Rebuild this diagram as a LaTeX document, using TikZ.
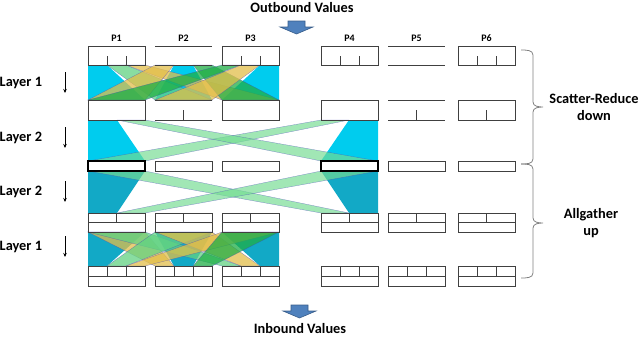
\documentclass[tikz,border=0pt]{standalone}
\usepackage{fontspec}
\setmainfont{Carlito}
\usepackage{xcolor}
\usepackage{tikz}
\usetikzlibrary{arrows.meta,positioning}

\definecolor{selfcyan}{HTML}{00CCEE}
\definecolor{selfteal}{HTML}{12A9C6}
\definecolor{fanlight}{HTML}{62D282}
\definecolor{fanyellow}{HTML}{E2BE4A}
\definecolor{fangreen}{HTML}{1FAE46}
\definecolor{bandgreen}{HTML}{74DC92}
\definecolor{arrowblue}{HTML}{4F81BD}
\definecolor{arrowedge}{HTML}{385D8A}

\begin{document}
\begin{tikzpicture}[x=1bp,y=-1bp,
    box/.style={draw=black!75,line width=0.8bp},
    fan/.style={fill=#1,fill opacity=0.75,draw=blue!45!gray,draw opacity=0.6,line width=0.3bp},
    band/.style={fill=#1,fill opacity=0.68,draw=blue!45!gray,draw opacity=0.6,line width=0.3bp},
    selfpart/.style={fill=#1,draw=none},
    lbl/.style={font=\bfseries\fontsize{14.4}{17.3}\selectfont,inner sep=0pt},
    plbl/.style={font=\bfseries\fontsize{10}{12}\selectfont,inner sep=0pt},
    layerarrow/.style={-{Stealth[length=4bp,width=3.5bp]},line width=0.8bp},
    blockarrow/.style={fill=arrowblue,draw=arrowedge,line width=0.6bp},
    grouping/.style={draw=gray,line width=0.8bp}]

\useasboundingbox (0,0) rectangle (640,336);

% titles and block arrows
\node[lbl] (outv) at (302,7.5) {Outbound Values};
\node[lbl] (inv) at (300,328.5) {Inbound Values};
\draw[blockarrow] (288,21) -- (305,21) -- (305,27) -- (313,27) -- (296.5,34)
    -- (280,27) -- (288,27) -- cycle;
\draw[blockarrow] (291,305) -- (308,305) -- (308,311) -- (316,311) -- (299.5,318)
    -- (283,311) -- (291,311) -- cycle;

% processor names
\foreach \x/\p in {88/P1,155/P2,222/P3,321/P4,388/P5,458/P6}
    \node[plbl] (\p) at (\x+28.5,38) {\p};

% layer 1, scatter-reduce
\foreach \a/\b/\c/\d in {88/107/88/145,174/193/155/212,260/279/222/279}
    \fill[selfpart=selfcyan] (\a,65) -- (\b,65) -- (\d,100) -- (\c,100) -- cycle;
\foreach \a/\b/\c/\d/\col in {107/126/155/212/fanlight,126/145/222/279/fanyellow,
    155/174/88/145/fanyellow,193/212/222/279/fangreen,
    222/241/88/145/fangreen,241/260/155/212/fanyellow}
    \filldraw[fan=\col] (\a,65) -- (\b,65) -- (\d,100) -- (\c,100) -- cycle;

% layer 2, scatter-reduce
\fill[selfpart=selfcyan] (88,120) -- (117,120) -- (145,161) -- (88,161) -- cycle;
\fill[selfpart=selfcyan] (349,120) -- (378,120) -- (378,161) -- (321,161) -- cycle;
\filldraw[band=bandgreen] (88,161) -- (145,161) -- (349,120) -- (321,120) -- cycle;
\filldraw[band=bandgreen] (117,120) -- (145,120) -- (378,161) -- (321,161) -- cycle;

% layer 2, allgather
\fill[selfpart=selfteal] (88,171) -- (145,171) -- (117,213) -- (88,213) -- cycle;
\fill[selfpart=selfteal] (321,171) -- (378,171) -- (378,213) -- (349,213) -- cycle;
\filldraw[band=bandgreen] (88,171) -- (145,171) -- (349,213) -- (321,213) -- cycle;
\filldraw[band=bandgreen] (321,171) -- (378,171) -- (145,213) -- (117,213) -- cycle;

% layer 1, allgather
\foreach \a/\b/\c/\d in {88/145/88/107,155/212/174/193,222/279/260/279}
    \fill[selfpart=selfteal] (\a,232) -- (\b,232) -- (\d,266) -- (\c,266) -- cycle;
\foreach \a/\b/\c/\d/\col in {88/145/155/174/fanyellow,88/145/222/241/fanlight,
    155/212/107/126/fanlight,155/212/241/260/fanyellow,
    222/279/126/145/fanyellow,222/279/193/212/fangreen}
    \filldraw[fan=\col] (\a,232) -- (\b,232) -- (\d,266) -- (\c,266) -- cycle;

% buffers, row by row
\foreach \x in {88,222,321,458} {
    \draw[box] (\x,46) rectangle ++(57,19);
    \draw[box] (\x+19,56) -- (\x+19,65) (\x+38,56) -- (\x+38,65);
}
\foreach \x in {155,388}
    \draw[box] (\x,46) -- ++(57,0) (\x,65) -- ++(57,0);
\foreach \x in {88,222,321,458}
    \draw[box] (\x,100) rectangle ++(57,20);
\foreach \x in {155,388}
    \draw[box] (\x,100) -- ++(57,0) (\x,120) -- ++(57,0);
\foreach \x in {155,388,458}
    \draw[box] (\x+28.5,110) -- (\x+28.5,120);
\foreach \x in {155,222,388,458}
    \draw[box] (\x,161) rectangle ++(57,10);
\foreach \x in {88,321}
    \draw[box,draw=black,line width=1.2bp] (\x,161) rectangle ++(57,10);
\foreach \x in {88,155,222,321,388,458} {
    \draw[box] (\x,213) rectangle ++(57,19);
    \draw[box] (\x,222.5) -- ++(57,0) (\x+28.5,213) -- ++(0,9.5);
    \draw[box] (\x,266) rectangle ++(57,20);
    \draw[box] (\x,276) -- ++(57,0) (\x+19,266) -- ++(0,10) (\x+38,266) -- ++(0,10);
}

% layer labels
\foreach \n/\t/\y in {1/Layer 1/83,2/Layer 2/138,3/Layer 2/192,4/Layer 1/247} {
    \node[lbl,anchor=west] (layer\n) at (-0.5,\y) {\t};
    \coordinate (from\n) at (65,\y-11);
    \coordinate (to\n) at (65,\y+10);
    \draw[layerarrow] (from\n) -- (to\n);
}

% phases
\node[lbl,align=center] (scatter) at (594,107) {Scatter-Reduce\\down};
\node[lbl,align=center] (gather) at (591,223) {Allgather\\up};
\coordinate (srtop) at (521,50);
\coordinate (srtip) at (543,107);
\coordinate (srbot) at (521,164);
\coordinate (agtip) at (543,223);
\coordinate (agbot) at (521,278);
\draw[grouping] (srtop) to[out=0,in=90] (533,55) -- (533,102)
    to[out=270,in=180] (srtip) to[out=180,in=90] (533,112) -- (533,159)
    to[out=270,in=0] (srbot);
\draw[grouping] (srbot) to[out=0,in=90] (533,169) -- (533,218)
    to[out=270,in=180] (agtip) to[out=180,in=90] (533,228) -- (533,273)
    to[out=270,in=0] (agbot);

\end{tikzpicture}
\end{document}
